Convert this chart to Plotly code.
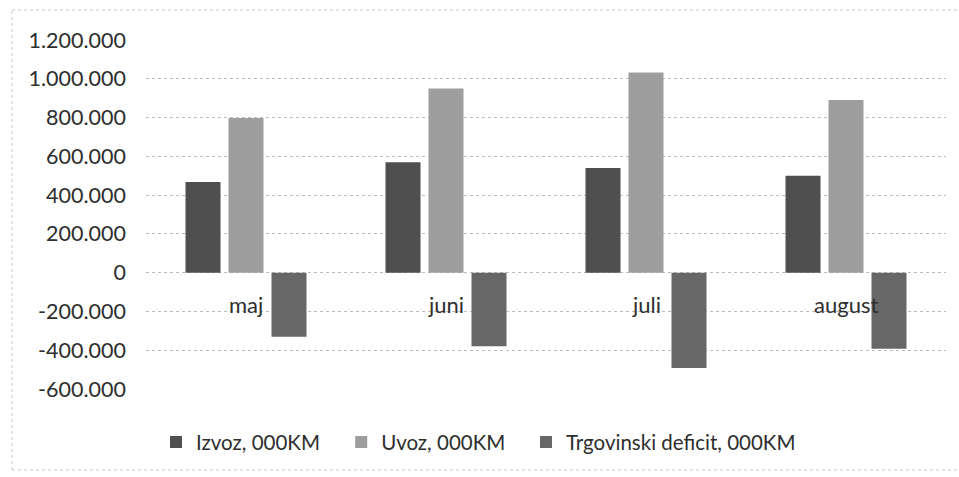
import plotly.graph_objects as go

categories = ["maj", "juni", "juli", "august"]
izvoz = [468000, 570000, 540000, 500000]
uvoz = [798000, 950000, 1032000, 890000]
deficit = [-330000, -380000, -492000, -392000]
series_names = ["Izvoz, 000KM", "Uvoz, 000KM", "Trgovinski deficit, 000KM"]
tick_values = [-600000, -400000, -200000, 0, 200000, 400000, 600000, 800000, 1000000, 1200000]
tick_labels = ["-600.000", "-400.000", "-200.000", "0", "200.000", "400.000",
               "600.000", "800.000", "1.000.000", "1.200.000"]

FONT = "Lato, Open Sans, sans-serif"
TXT = "#2e2e2e"
colors = ["#4f4f4f", "#9e9e9e", "#676767"]
legend_ids = ["legend", "legend2", "legend3"]
legend_x = [0.0125, 0.244, 0.475]

fig = go.Figure()
for name, vals, col, lid in zip(series_names, [izvoz, uvoz, deficit], colors, legend_ids):
    fig.add_trace(go.Bar(name=name, x=categories, y=vals, legend=lid,
                         marker=dict(color=col, line=dict(width=0))))

for c in categories:
    fig.add_annotation(x=c, y=-165000, xref="x", yref="y", text=c, showarrow=False,
                       font=dict(family=FONT, size=22, color=TXT),
                       xanchor="center", yanchor="middle", bgcolor="rgba(0,0,0,0)")

legend_common = dict(orientation="h", xanchor="left", y=-0.095, yanchor="top",
                     font=dict(family=FONT, size=20.5, color=TXT),
                     bgcolor="rgba(0,0,0,0)", itemwidth=30)

frame = dict(color="#c8c8c8", width=1, dash="dot")
fig.update_layout(
    width=959, height=477,
    margin=dict(l=146, r=13, t=40, b=88, autoexpand=False),
    paper_bgcolor="white", plot_bgcolor="white",
    barmode="group", bargap=0.355, bargroupgap=0.186,
    font=dict(family=FONT, size=20, color=TXT),
    showlegend=True,
    legend=dict(x=legend_x[0], **legend_common),
    legend2=dict(x=legend_x[1], **legend_common),
    legend3=dict(x=legend_x[2], **legend_common),
    xaxis=dict(showticklabels=False, showgrid=False, zeroline=False, showline=False,
               ticks="", automargin=False),
    yaxis=dict(range=[-600000, 1200000], tickvals=tick_values, ticktext=tick_labels,
               showgrid=True, gridcolor="#bdbdbd", griddash="dot", gridwidth=1,
               zeroline=False, showline=False, ticks="", ticklabelstandoff=19,
               automargin=False,
               tickfont=dict(family=FONT, size=21.5, color=TXT)),
    shapes=[
        dict(type="line", xref="paper", yref="paper", x0=-0.1675, x1=-0.1675, y0=-0.232, y1=1.086, line=frame),
        dict(type="line", xref="paper", yref="paper", x0=-0.1675, x1=1.016, y0=1.086, y1=1.086, line=frame),
        dict(type="line", xref="paper", yref="paper", x0=-0.1675, x1=1.016, y0=-0.232, y1=-0.232, line=frame),
    ],
)

fig.write_html("out.html", config={"displayModeBar": False})
with open("out.html", "r", encoding="utf-8") as f:
    html = f.read()
html = html.replace("<head>", "<head><style>html,body{margin:0;padding:0;overflow:hidden}</style>", 1)
with open("out.html", "w", encoding="utf-8") as f:
    f.write(html)
